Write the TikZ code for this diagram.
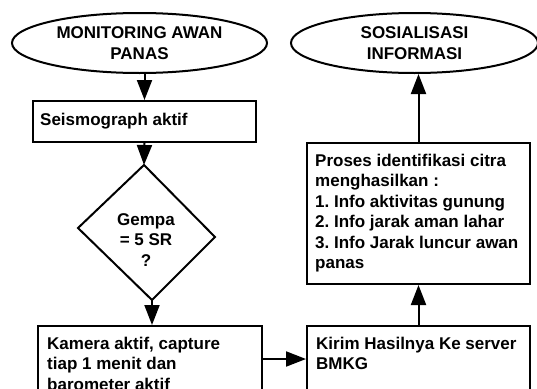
\documentclass[tikz,border=0pt]{standalone}
\usepackage{fontspec}
\setmainfont{Liberation Sans}
\usetikzlibrary{arrows.meta,shapes.geometric}
\frenchspacing
\begin{document}
\begin{tikzpicture}[x=1pt,y=-1pt,
  every node/.style={font=\bfseries\fontsize{17}{20.4}\selectfont},
  box/.style={draw, line width=2pt, rectangle, inner sep=0pt, anchor=north west},
  oval/.style={draw, line width=2pt, ellipse, inner sep=0pt, align=center},
  txt/.style={inner sep=0pt, align=left, anchor=north west},
  arr/.style={line width=2pt, -{Triangle[length=20pt,width=15pt]}}
]
\useasboundingbox (0,0) rectangle (537,388);
\clip (0,0) rectangle (537,388);
\node[oval, minimum width=255pt, minimum height=60pt] (mon) at (139.5,43) {MONITORING AWAN\\PANAS};
\node[oval, minimum width=247pt, minimum height=60pt] (sos) at (414.5,43) {SOSIALISASI\\INFORMASI};

\node[box, minimum width=223pt, minimum height=41pt] (seis) at (32,100) {};
\node[txt, anchor=west] (seist) at ([xshift=8pt]seis.west) {Seismograph aktif};

\coordinate (dt) at (144,165);
\coordinate (dl) at (78,228);
\coordinate (dr) at (215,237);
\coordinate (db) at (152,300);
\draw[line width=2pt, line join=miter] (dt) -- (dr) -- (db) -- (dl) -- cycle;
\node[align=center, inner sep=0pt] (q) at (146,240) {Gempa\\= 5 SR\\?};

\node[box, minimum width=224pt, minimum height=80pt] (kam) at (37,325) {};
\node[txt] (kamt) at ([xshift=10pt,yshift=-11.8pt]kam.north west) {Kamera aktif, capture\\tiap 1 menit dan\\barometer aktif};

\node[box, minimum width=223pt, minimum height=80pt] (kirim) at (306,325) {};
\node[txt] (kirimt) at ([xshift=10pt,yshift=-11.8pt]kirim.north west) {Kirim Hasilnya Ke server\\BMKG};

\node[box, minimum width=223pt, minimum height=141pt] (proses) at (306,142) {};
\node[txt] (prosest) at ([xshift=9pt,yshift=-12pt]proses.north west) {Proses identifikasi citra\\menghasilkan :\\1. Info aktivitas gunung\\2. Info jarak aman lahar\\3. Info Jarak luncur awan\\panas};

\draw[arr] (seis.north |- mon.south) -- (seis.north);
\draw[arr] (seis.south) -- (dt);
\draw[arr] (db) -- (db |- kam.north);
\draw[arr] ([yshift=7pt]kam.east) -- ([yshift=7pt]kirim.west);
\draw[arr] (kirim.north) -- (proses.south);
\draw[arr] (proses.north) -- (proses.north |- sos.south);
\end{tikzpicture}
\end{document}
